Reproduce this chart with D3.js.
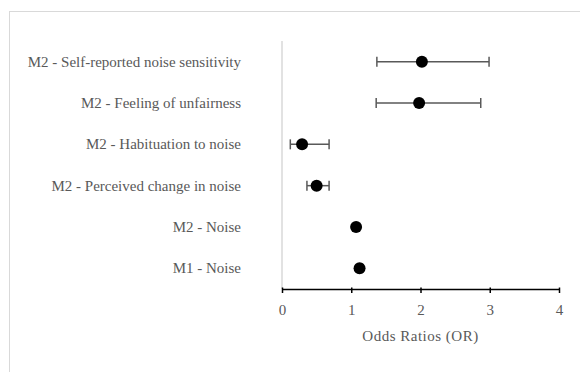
<!DOCTYPE html>
<html>
<head>
<meta charset="utf-8">
<script src="https://cdn.jsdelivr.net/npm/d3@7"></script>
<style>
  body { margin: 0; background: #fff; }
  text { font-family: "Liberation Serif", "DejaVu Serif", serif; }
</style>
</head>
<body>
<div id="chart"></div>
<script>
const categories = [
  "M2 - Self-reported noise sensitivity",
  "M2 - Feeling of unfairness",
  "M2 - Habituation to noise",
  "M2 - Perceived change in noise",
  "M2 - Noise",
  "M1 - Noise"
];
const oddsRatios = [2.02, 1.98, 0.29, 0.50, 1.07, 1.12];
const ciLow = [1.37, 1.36, 0.12, 0.36, 1.04, 1.09];
const ciHigh = [2.99, 2.87, 0.68, 0.68, 1.10, 1.16];
const xTicks = [0, 1, 2, 3, 4];

const W = 580, H = 372;
const margin = { top: 41, right: 21, bottom: 83, left: 282 };

const svg = d3.select("#chart").append("svg")
  .attr("width", W)
  .attr("height", H);

// chart area border
svg.append("rect")
  .attr("x", 9.5).attr("y", 11.5)
  .attr("width", 600).attr("height", 400)
  .attr("fill", "none")
  .attr("stroke", "#d9d9d9")
  .attr("stroke-width", 1);

const x = d3.scaleLinear().domain([0, 4]).range([margin.left, W - margin.right]);
const y = d3.scaleBand().domain(categories).range([margin.top, H - margin.bottom]);

const data = categories.map((c, i) => ({ c, or: oddsRatios[i], lo: ciLow[i], hi: ciHigh[i] }));

// vertical line at 0
svg.append("line")
  .attr("x1", x(0)).attr("x2", x(0))
  .attr("y1", margin.top).attr("y2", H - margin.bottom)
  .attr("stroke", "#d9d9d9")
  .attr("stroke-width", 1.5);

// x axis
const xAxis = svg.append("g")
  .attr("transform", `translate(0,${H - margin.bottom})`)
  .call(d3.axisBottom(x).tickValues(xTicks).tickSize(4).tickSizeOuter(0).tickFormat(d3.format("d")));
xAxis.select(".domain").attr("stroke", "#000").attr("stroke-width", 1.5);
xAxis.selectAll(".tick line").attr("stroke", "#000").attr("stroke-width", 1.5).attr("y1", -1.5);
xAxis.selectAll(".tick text")
  .attr("y", 0)
  .attr("dy", null)
  .attr("transform", "translate(0,26)")
  .attr("fill", "#595959")
  .style("font-size", "15px")
  .style("font-family", "Liberation Serif, serif");

// axis title
svg.append("text")
  .attr("x", (x(0) + x(4)) / 2)
  .attr("y", 341)
  .attr("text-anchor", "middle")
  .attr("fill", "#595959")
  .style("font-size", "15px")
  .style("letter-spacing", "0.5px")
  .text("Odds Ratios (OR)");

// category labels
svg.selectAll(".cat")
  .data(data)
  .enter()
  .append("text")
  .attr("class", "cat")
  .attr("x", 241)
  .attr("y", d => y(d.c) + y.bandwidth() / 2 + 5)
  .attr("text-anchor", "end")
  .attr("fill", "#595959")
  .style("font-size", "15px")
  .text(d => d.c);

const rows = svg.selectAll(".row")
  .data(data)
  .enter()
  .append("g")
  .attr("class", "row")
  .attr("transform", d => `translate(0,${y(d.c) + y.bandwidth() / 2})`);

// error bars
rows.append("line")
  .attr("x1", d => x(d.lo)).attr("x2", d => x(d.hi))
  .attr("stroke", "#595959").attr("stroke-width", 1.5);
rows.append("line")
  .attr("x1", d => x(d.lo)).attr("x2", d => x(d.lo))
  .attr("y1", -5).attr("y2", 5)
  .attr("stroke", "#595959").attr("stroke-width", 1.5);
rows.append("line")
  .attr("x1", d => x(d.hi)).attr("x2", d => x(d.hi))
  .attr("y1", -5).attr("y2", 5)
  .attr("stroke", "#595959").attr("stroke-width", 1.5);

// points
rows.append("circle")
  .attr("cx", d => x(d.or))
  .attr("r", 6)
  .attr("fill", "#000");
</script>
</body>
</html>
